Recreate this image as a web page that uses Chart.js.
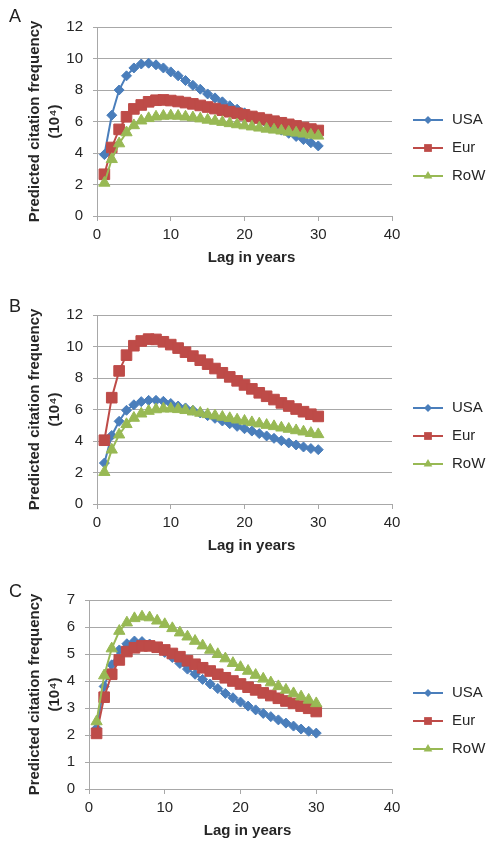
<!DOCTYPE html>
<html>
<head>
<meta charset="utf-8">
<script src="https://cdn.jsdelivr.net/npm/chart.js@4"></script>
<style>
  html, body { margin: 0; padding: 0; background: #fff; overflow: hidden; }
  .panel { position: absolute; left: 0; width: 487px; height: 268px; }
  .letter { position: absolute; left: 9px; font: 18px/1 "Liberation Sans", Arial, sans-serif; color: #222; }
</style>
</head>
<body>
<div class="panel" style="top:0"><canvas id="chartA" width="487" height="268"></canvas><div class="letter" style="top:7px">A</div></div>
<div class="panel" style="top:288px"><canvas id="chartB" width="487" height="268"></canvas><div class="letter" style="top:9px">B</div></div>
<div class="panel" style="top:573px"><canvas id="chartC" width="487" height="268"></canvas><div class="letter" style="top:9px">C</div></div>
<script>
// lag (years)
const lags = [1, 2, 3, 4, 5, 6, 7, 8, 9, 10, 11, 12, 13, 14, 15, 16, 17, 18, 19, 20, 21, 22, 23, 24, 25, 26, 27, 28, 29, 30]

// panel A
const usaA = [3.9, 6.4, 8.0, 8.9, 9.4, 9.65, 9.7, 9.6, 9.4, 9.15, 8.9, 8.6, 8.3, 8.05, 7.75, 7.5, 7.25, 7.0, 6.78, 6.55, 6.33, 6.1, 5.88, 5.66, 5.45, 5.25, 5.05, 4.85, 4.65, 4.45]
const eurA = [2.65, 4.35, 5.5, 6.3, 6.8, 7.05, 7.25, 7.35, 7.37, 7.33, 7.27, 7.2, 7.12, 7.02, 6.92, 6.82, 6.72, 6.62, 6.52, 6.42, 6.32, 6.22, 6.12, 6.02, 5.92, 5.82, 5.72, 5.62, 5.52, 5.43]
const rowA = [2.1, 3.6, 4.6, 5.3, 5.75, 6.05, 6.2, 6.3, 6.35, 6.37, 6.35, 6.3, 6.25, 6.18, 6.1, 6.03, 5.96, 5.88, 5.81, 5.74, 5.67, 5.6, 5.53, 5.47, 5.41, 5.34, 5.28, 5.22, 5.15, 5.09]

// panel B
const usaB = [2.6, 4.35, 5.25, 5.95, 6.3, 6.5, 6.58, 6.58, 6.52, 6.38, 6.22, 6.1, 5.95, 5.78, 5.61, 5.44, 5.27, 5.1, 4.93, 4.78, 4.63, 4.47, 4.32, 4.17, 4.02, 3.88, 3.75, 3.62, 3.52, 3.45]
const eurB = [4.05, 6.75, 8.45, 9.45, 10.05, 10.35, 10.47, 10.45, 10.3, 10.12, 9.9, 9.64, 9.39, 9.13, 8.88, 8.6, 8.33, 8.07, 7.82, 7.56, 7.31, 7.06, 6.84, 6.63, 6.42, 6.22, 6.03, 5.86, 5.7, 5.56]
const rowB = [2.02, 3.44, 4.4, 5.06, 5.46, 5.73, 5.9, 6.0, 6.05, 6.05, 6.01, 5.95, 5.86, 5.78, 5.69, 5.61, 5.52, 5.44, 5.35, 5.27, 5.18, 5.1, 5.01, 4.93, 4.84, 4.76, 4.67, 4.59, 4.5, 4.42]

// panel C
const usaC = [2.25, 3.8, 4.6, 5.15, 5.38, 5.48, 5.46, 5.37, 5.25, 5.06, 4.87, 4.65, 4.44, 4.25, 4.06, 3.89, 3.72, 3.54, 3.38, 3.22, 3.07, 2.93, 2.8, 2.68, 2.56, 2.44, 2.33, 2.22, 2.14, 2.07]
const eurC = [2.06, 3.4, 4.25, 4.78, 5.09, 5.23, 5.3, 5.3, 5.25, 5.15, 5.02, 4.9, 4.75, 4.62, 4.49, 4.37, 4.25, 4.12, 4.0, 3.89, 3.77, 3.67, 3.56, 3.46, 3.36, 3.26, 3.17, 3.07, 2.99, 2.87]
const rowC = [2.5, 4.2, 5.2, 5.85, 6.16, 6.32, 6.38, 6.35, 6.23, 6.1, 5.95, 5.79, 5.64, 5.48, 5.31, 5.15, 4.99, 4.83, 4.66, 4.51, 4.37, 4.22, 4.08, 3.94, 3.8, 3.67, 3.54, 3.42, 3.3, 3.17]

const seriesNames = ['USA', 'Eur', 'RoW']
const xTicks = { min: 0, max: 40, step: 10 }
const xTitle = 'Lag in years'

const FONT = '"Liberation Sans", Arial, sans-serif'
const TEXT = '#262626'
const GRID = '#a8a8a8'
Chart.defaults.font.family = FONT

const styles = [
  { color: '#4a7ebb', point: 'rectRot', radius: 5, legendRadius: 4 },
  { color: '#be4b48', point: 'rect', radius: 7.5, legendRadius: 5.5 },
  { color: '#98b954', point: 'triangle', radius: 6.5, legendRadius: 5 }
]

// small marker drawing for the legend (line + marker like the original)
const drawMarker = ( ctx, style, x, y, r ) => {
  ctx.beginPath()
  if ( style === 'rectRot' ) {
    ctx.moveTo( x, y - r ); ctx.lineTo( x + r, y ); ctx.lineTo( x, y + r ); ctx.lineTo( x - r, y )
  } else if ( style === 'rect' ) {
    const s = r * Math.SQRT1_2
    ctx.rect( x - s, y - s, 2 * s, 2 * s )
  } else {
    const h = r * Math.sqrt( 3 ) / 2
    ctx.moveTo( x, y - r ); ctx.lineTo( x + h, y + r / 2 ); ctx.lineTo( x - h, y + r / 2 )
  }
  ctx.closePath()
  ctx.fill()
}

// legend on the right + x axis title (a bit right of the plot centre, as in the original)
const lineLegend = {
  id: 'lineLegend',
  afterDraw( chart ) {
    const ctx = chart.ctx
    const area = chart.chartArea
    const top = area.top + 93
    chart.data.datasets.forEach( ( ds, i ) => {
      const st = styles[i]
      const y = top + i * 28
      ctx.save()
      ctx.strokeStyle = st.color
      ctx.lineWidth = 2
      ctx.beginPath()
      ctx.moveTo( 413, y )
      ctx.lineTo( 443, y )
      ctx.stroke()
      ctx.fillStyle = st.color
      drawMarker( ctx, st.point, 428, y, st.legendRadius )
      ctx.fillStyle = TEXT
      ctx.font = '15px ' + FONT
      ctx.textBaseline = 'middle'
      ctx.textAlign = 'left'
      ctx.fillText( ds.label, 452, y )
      ctx.restore()
    } )

    ctx.save()
    ctx.fillStyle = TEXT
    ctx.font = 'bold 15px ' + FONT
    ctx.textAlign = 'center'
    ctx.textBaseline = 'middle'
    ctx.fillText( xTitle, ( area.left + area.right ) / 2 + 7, area.bottom + 42 )
    ctx.restore()
  }
}

const makeChart = ( id, values, yMax, yStep, axisWidth ) => {
  const datasets = values.map( ( vals, i ) => ( {
    label: seriesNames[i],
    data: lags.map( ( lag, k ) => ( { x: lag, y: vals[k] } ) ),
    borderColor: styles[i].color,
    backgroundColor: styles[i].color,
    borderWidth: 2,
    pointStyle: styles[i].point,
    pointRadius: styles[i].radius,
    pointBorderWidth: 1,
    pointBackgroundColor: styles[i].color,
    pointBorderColor: styles[i].color,
    order: 3 - i
  } ) )

  return new Chart( document.getElementById( id ), {
    type: 'line',
    data: { datasets },
    plugins: [lineLegend],
    options: {
      responsive: false,
      animation: false,
      layout: { padding: { top: 27, right: 95, bottom: 1, left: 0 } },
      plugins: { legend: { display: false }, tooltip: { enabled: false } },
      scales: {
        x: {
          type: 'linear',
          min: xTicks.min,
          max: xTicks.max,
          ticks: { stepSize: xTicks.step, padding: 5, color: TEXT, font: { size: 15 } },
          grid: { drawOnChartArea: false, tickLength: 5, color: GRID },
          border: { color: GRID },
          title: { display: false },
          afterFit: ( scale ) => { scale.height = 51 }
        },
        y: {
          min: 0,
          max: yMax,
          ticks: { stepSize: yStep, padding: 10, color: TEXT, font: { size: 15 } },
          grid: { color: GRID, tickLength: 4 },
          border: { color: GRID },
          title: {
            display: true,
            text: ['Predicted citation frequency', '(10\u2074)'],
            color: TEXT,
            font: { size: 15, weight: 'bold', lineHeight: 1.34 },
            padding: { top: 25, bottom: 0 }
          },
          afterFit: ( scale ) => { scale.width = axisWidth }
        }
      }
    }
  } )
}

makeChart( 'chartA', [usaA, eurA, rowA], 12, 2, 97 )
makeChart( 'chartB', [usaB, eurB, rowB], 12, 2, 97 )
makeChart( 'chartC', [usaC, eurC, rowC], 7, 1, 89 )
</script>
</body>
</html>
